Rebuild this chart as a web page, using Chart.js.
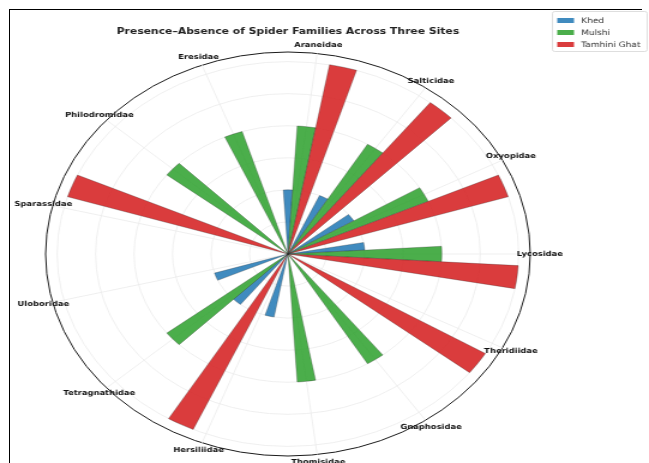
<!DOCTYPE html>
<html>
<head>
<meta charset="utf-8">
<script src="https://cdn.jsdelivr.net/npm/chart.js@4.4.1/dist/chart.umd.min.js"></script>
<style>
  html, body { margin: 0; padding: 0; background: #fff; overflow: hidden; }
  #frame { position: absolute; left: 9px; top: 9px; width: 632px; height: 470px;
           border-left: 1.5px solid #000; border-top: 1.5px solid #000; }
  #wrap { position: absolute; left: 0; top: 0; width: 541px; height: 463px;
          transform: scaleX(1.1996); transform-origin: 0 0; }
</style>
</head>
<body>
<div id="frame"></div>
<div id="wrap"><canvas id="c"></canvas></div>
<script>
// Spider families, clockwise from the top
const families = ['Araneidae', 'Salticidae', 'Oxyopidae', 'Lycosidae', 'Theridiidae', 'Gnaphosidae',
                  'Thomisidae', 'Hersiliidae', 'Tetragnathidae', 'Uloboridae', 'Sparassidae',
                  'Philodromidae', 'Eresidae'];
// Bar height per site (0 = absent)
const khed    = [1, 1, 1, 1, 0, 0, 0, 1, 1, 1, 0, 0, 0];
const mulshi  = [2, 2, 2, 2, 0, 2, 2, 0, 2, 0, 0, 2, 2];
const tamhini = [3, 3, 3, 3, 3, 0, 0, 3, 0, 0, 3, 0, 0];
const siteNames = ['Khed', 'Mulshi', 'Tamhini Ghat'];
const siteColors = ['rgba(31,119,180,0.85)', 'rgba(44,160,44,0.85)', 'rgba(214,39,40,0.9)'];
const rTicks = [0, 0.5, 1, 1.5, 2, 2.5, 3];
const rMax = 3.15;

// Each family gets four equal slots: three site bars and one empty gap
const SLOTS = 4;
const sites = [khed, mulshi, tamhini];
const slotLabels = [], slotValues = [], slotColors = [];
families.forEach((fam, i) => {
  sites.forEach((s, j) => {
    slotLabels.push(fam + ' – ' + siteNames[j]);
    slotValues.push(s[i]);
    slotColors.push(siteColors[j]);
  });
  slotLabels.push('');
  slotValues.push(0);
  slotColors.push('rgba(0,0,0,0)');
});
const slotDeg = 360 / slotValues.length;

const FONT = '"DejaVu Sans", sans-serif';
const GRID = '#ebebeb';

const polarDecor = {
  id: 'polarDecor',
  beforeDatasetsDraw(chart) {
    const s = chart.scales.r, ctx = chart.ctx;
    const outer = s.getDistanceFromCenterForValue(rMax);
    ctx.save();
    ctx.strokeStyle = GRID;
    ctx.lineWidth = 0.8;
    families.forEach((f, i) => {
      const p = s.getPointPosition(i * SLOTS + 1.5, outer);
      ctx.beginPath();
      ctx.moveTo(s.xCenter, s.yCenter);
      ctx.lineTo(p.x, p.y);
      ctx.stroke();
    });
    ctx.restore();
  },
  afterDraw(chart) {
    const s = chart.scales.r, ctx = chart.ctx;
    const labelDist = s.getDistanceFromCenterForValue(rMax) + 8;
    ctx.save();
    // family names around the rim, centred on the middle bar
    ctx.font = 'bold 7px ' + FONT;
    ctx.fillStyle = '#111';
    ctx.textAlign = 'center';
    ctx.textBaseline = 'middle';
    families.forEach((f, i) => {
      const p = s.getPointPosition(i * SLOTS + 1.5, labelDist);
      ctx.fillText(f, p.x, p.y);
    });
    // legend
    const lx = 460.5, ly = 11.5, lw = 79, lh = 40;
    ctx.beginPath();
    ctx.roundRect(lx, ly, lw, lh, 2);
    ctx.fillStyle = 'rgba(255,255,255,0.85)';
    ctx.fill();
    ctx.strokeStyle = '#d6d6d6';
    ctx.lineWidth = 0.8;
    ctx.stroke();
    ctx.font = '7.5px ' + FONT;
    ctx.textAlign = 'left';
    siteNames.forEach((n, j) => {
      const y = ly + 9 + j * 12;
      ctx.fillStyle = siteColors[j];
      ctx.fillRect(lx + 4, y - 2.5, 14, 5);
      ctx.fillStyle = '#333';
      ctx.fillText(n, lx + 24, y + 0.5);
    });
    ctx.restore();
  }
};

new Chart(document.getElementById('c'), {
  type: 'polarArea',
  data: {
    labels: slotLabels,
    datasets: [{
      data: slotValues,
      backgroundColor: slotColors,
      borderColor: 'rgba(40,40,40,0.45)',
      borderWidth: c => (slotValues[c.dataIndex] ? 0.6 : 0)
    }]
  },
  options: {
    responsive: true,
    maintainAspectRatio: false,
    animation: false,
    events: [],
    layout: { padding: { left: 38, right: 99, top: 18, bottom: 7 } },
    plugins: {
      legend: { display: false },
      tooltip: { enabled: false },
      title: {
        display: true,
        text: 'Presence–Absence of Spider Families Across Three Sites',
        color: '#222',
        font: { family: FONT, size: 9, weight: 'bold' },
        padding: { top: 8, bottom: 15.2 }
      }
    },
    scales: {
      r: {
        min: 0,
        max: rMax,
        startAngle: -slotDeg / 2,
        afterBuildTicks: sc => { sc.ticks = rTicks.concat([rMax]).map(v => ({ value: v })); },
        ticks: { display: false },
        pointLabels: { display: false },
        angleLines: { display: false },
        grid: {
          circular: true,
          color: c => (c.tick && c.tick.value === rMax ? '#1a1a1a' : GRID),
          lineWidth: c => (c.tick && c.tick.value === rMax ? 1 : 0.8)
        }
      }
    }
  },
  plugins: [polarDecor]
});
</script>
</body>
</html>
